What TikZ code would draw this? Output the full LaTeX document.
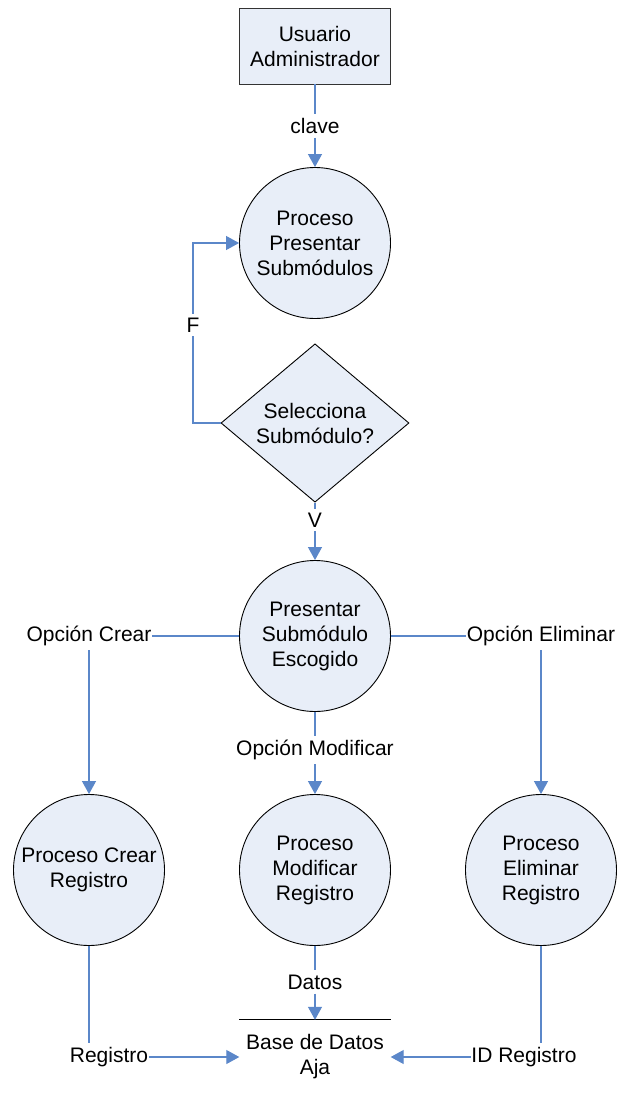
\documentclass[tikz,border=0pt]{standalone}
\usepackage{fontspec}
\setmainfont{Liberation Sans}
\usetikzlibrary{shapes.geometric,arrows.meta}
\definecolor{fillblue}{HTML}{E8EEF8}
\definecolor{linkblue}{HTML}{5B87C9}
\tikzset{
  base/.style={font=\fontsize{21}{25}\selectfont, align=center},
  entity/.style={base, draw=black!80, fill=fillblue, line width=0.9pt, minimum width=151pt, minimum height=76pt, inner sep=0pt},
  proc/.style={base, circle, draw=black, fill=fillblue, line width=0.9pt, minimum size=151pt, inner sep=0pt},
  decision/.style={base, diamond, draw=black, fill=fillblue, line width=0.9pt, minimum width=188pt, minimum height=114pt, inner sep=0pt},
  store/.style={base, minimum width=151pt, minimum height=74pt, inner sep=0pt},
  lbl/.style={base, inner xsep=0.5pt, inner ysep=4pt},
  link/.style={draw=linkblue, line width=1.1pt},
  arr/.style={link, -{Triangle[width=14pt,length=13pt]}},
}
\begin{document}
\begin{tikzpicture}[x=1pt,y=-1pt]
\useasboundingbox (0,0) rectangle (620,1093);
% nodes
\node[entity] (usr) at (315,46) {Usuario\\Administrador};
\node[proc] (p1) at (315,243) {Proceso\\Presentar\\Submódulos};
\node[decision] (dec) at (315,423) {Selecciona\\Submódulo?};
\node[proc] (p3) at (315,636) {Presentar\\Submódulo\\Escogido};
\node[proc] (c1) at (89,870) {Proceso Crear\\Registro};
\node[proc] (c2) at (315,870) {Proceso\\Modificar\\Registro};
\node[proc] (c3) at (541,870) {Proceso\\Eliminar\\Registro};
\node[store] (db) at (315,1057) {Base de Datos\\Aja};
\draw[line width=0.9pt] (db.north west) -- (db.north east);
% labels
\node[lbl] (clave) at (315,126) {clave};
\node[lbl] (F) at (193,325) {F};
\node[lbl] (V) at (315,520) {V};
\node[lbl] (crear) at (89,636) {Opción Crear};
\node[lbl] (elim) at (541,636) {Opción Eliminar};
\node[lbl] (modif) at (315,750) {Opción Modificar};
\node[lbl] (datos) at (315,982) {Datos};
\node[lbl] (reg) at (109,1057) {Registro};
\node[lbl] (idreg) at (524,1057) {ID Registro};
% connectors
\draw[link] (usr.south) -- (clave.north);
\draw[arr] (clave.south) -- (p1.north);
\draw[link] (dec.west) -| (F.south);
\draw[arr] (F.north) |- (p1.west);
\draw[link] (dec.south) -- (V.north);
\draw[arr] (V.south) -- (p3.north);
\draw[link] (p3.west) -- (p3.west -| crear.east);
\draw[arr] (crear.south) -- (c1.north);
\draw[link] (p3.east) -- (p3.east -| elim.west);
\draw[arr] (elim.south) -- (c3.north);
\draw[link] (p3.south) -- (modif.north);
\draw[arr] (modif.south) -- (c2.north);
\draw[link] (c2.south) -- (datos.north);
\draw[arr] (datos.south) -- (db.north);
\draw[link] (c1.south) -- (c1.south |- reg.north);
\draw[arr] (reg.east) -- (reg.east -| db.west);
\draw[link] (c3.south) -- (c3.south |- idreg.north);
\draw[arr] (idreg.west) -- (idreg.west -| db.east);
\end{tikzpicture}
\end{document}
